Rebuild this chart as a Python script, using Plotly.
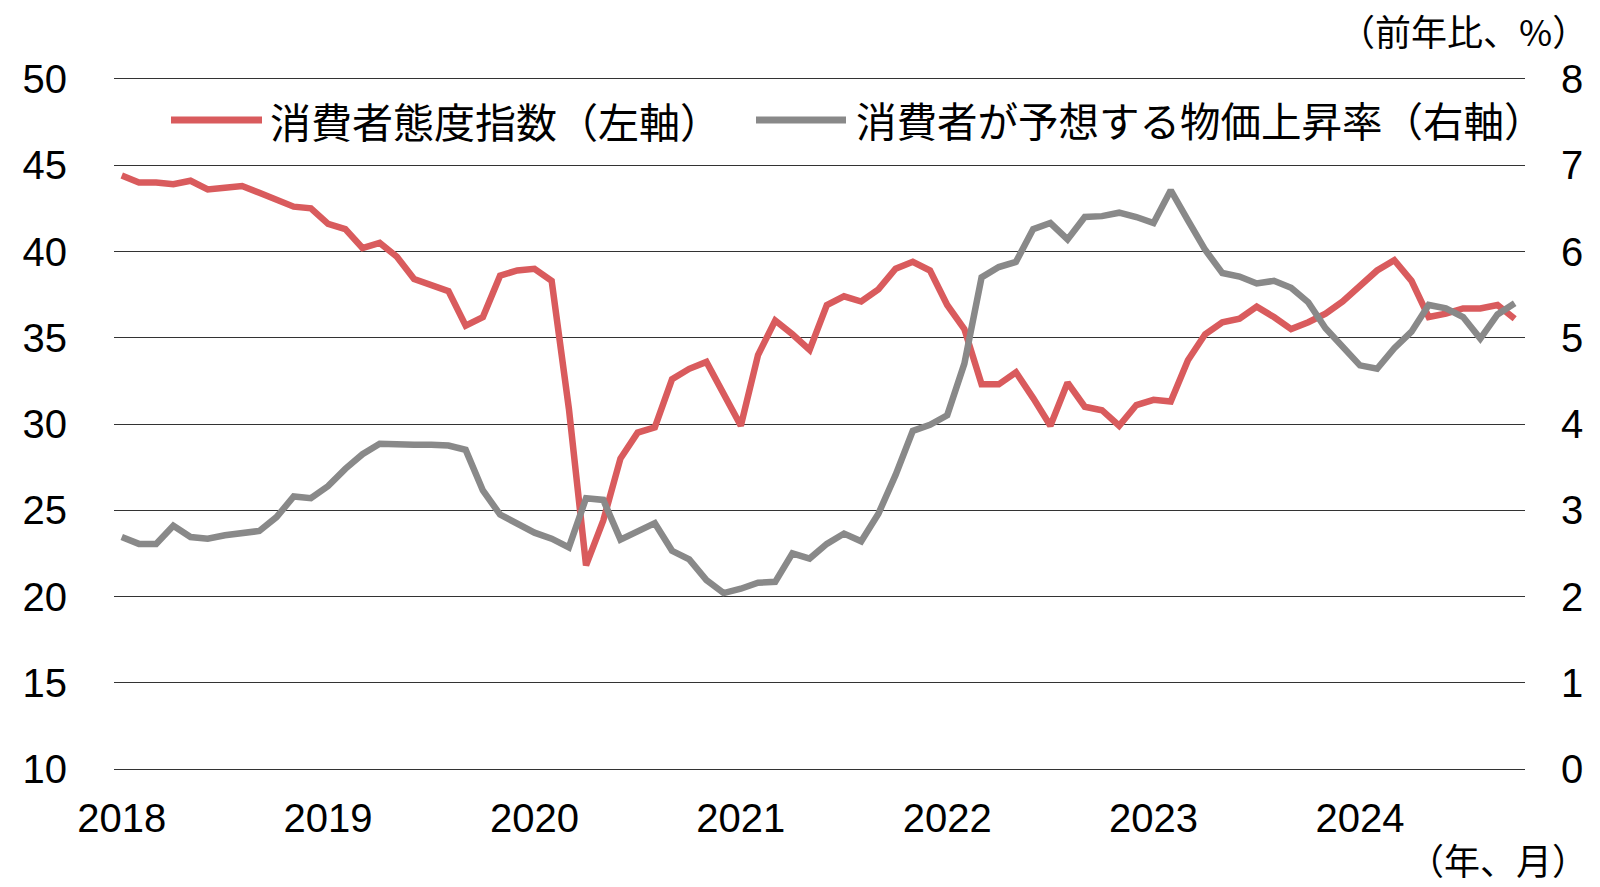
import plotly.graph_objects as go

# Monthly categories Jan 2018 - Oct 2024
months = [f"{y}/{m:02d}" for y in range(2018, 2025) for m in range(1, 13)][:82]

# 消費者態度指数（左軸）
confidence = [44.4, 44.0, 44.0, 43.9, 44.1, 43.6, 43.7, 43.8, 43.4, 43.0, 42.6, 42.5,
              41.6, 41.3, 40.2, 40.5, 39.7, 38.4, 38.0, 37.7, 35.7, 36.2, 38.6, 38.9,
              39.0, 38.3, 30.9, 21.8, 24.4, 28.0, 29.5, 29.8, 32.6, 33.2, 33.6, 31.8,
              29.9, 34.0, 36.0, 35.2, 34.3, 36.9, 37.4, 37.1, 37.8, 39.0, 39.4, 38.9,
              36.9, 35.5, 32.3, 32.3, 33.0, 31.5, 29.9, 32.4, 31.0, 30.8, 29.9, 31.1,
              31.4, 31.3, 33.7, 35.2, 35.9, 36.1, 36.8, 36.2, 35.5, 35.9, 36.4, 37.1,
              38.0, 38.9, 39.5, 38.3, 36.2, 36.4, 36.7, 36.7, 36.9, 36.1]

# 消費者が予想する物価上昇率（右軸）
expected_inflation = [2.69, 2.61, 2.61, 2.82, 2.69, 2.67, 2.71, 2.73, 2.76, 2.92, 3.16, 3.14,
                      3.28, 3.48, 3.65, 3.77, 3.76, 3.76, 3.76, 3.75, 3.70, 3.23, 2.95, 2.85,
                      2.74, 2.67, 2.57, 3.14, 3.12, 2.66, 2.75, 2.85, 2.53, 2.43, 2.19, 2.04,
                      2.09, 2.16, 2.17, 2.50, 2.44, 2.61, 2.73, 2.64, 2.96, 3.41, 3.92, 3.99,
                      4.10, 4.70, 5.70, 5.82, 5.88, 6.26, 6.33, 6.14, 6.40, 6.41, 6.45, 6.40,
                      6.33, 6.71, 6.36, 6.02, 5.75, 5.71, 5.63, 5.66, 5.58, 5.41, 5.11, 4.89,
                      4.68, 4.64, 4.88, 5.07, 5.38, 5.34, 5.24, 4.99, 5.27, 5.40]

year_ticks = ["2018/01", "2019/01", "2020/01", "2021/01", "2022/01", "2023/01", "2024/01"]
year_labels = ["2018", "2019", "2020", "2021", "2022", "2023", "2024"]

name_left = "消費者態度指数（左軸）"
name_right = "消費者が予想する物価上昇率（右軸）"

RED = "#D95B5D"
GRAY = "#898989"
GRID = "#333333"
JP = "Noto Sans CJK JP"
NUM = "Liberation Sans"

# figure geometry (page body has an 8px margin)
W, H = 1592, 871
ML, MT, PW, PH = 106, 71, 1411, 690
MR = W - ML - PW
MB = H - MT - PH


def px_x(p):
    return (p - ML) / PW


def px_y(p):
    return 1 - (p - MT) / PH


fig = go.Figure()
fig.add_trace(go.Scatter(x=months, y=confidence, name=name_left, mode="lines",
                         line=dict(color=RED, width=6.5), yaxis="y"))
fig.add_trace(go.Scatter(x=months, y=expected_inflation, name=name_right, mode="lines",
                         line=dict(color=GRAY, width=6.5), yaxis="y2"))

fig.update_layout(
    width=W, height=H,
    margin=dict(l=ML, r=MR, t=MT, b=MB, autoexpand=False),
    paper_bgcolor="white", plot_bgcolor="white",
    showlegend=False,
    font=dict(family=NUM, size=40, color="black"),
    xaxis=dict(type="category", categoryorder="array", categoryarray=months,
               range=[-0.45, 81.6], tickvals=year_ticks, ticktext=year_labels,
               showgrid=False, zeroline=False, showline=True, mirror=True,
               linecolor=GRID, linewidth=1, ticks="",
               ticklabelstandoff=14, tickfont=dict(family=NUM, size=40)),
    yaxis=dict(range=[10, 50], dtick=5, showgrid=True, gridcolor=GRID, gridwidth=1,
               zeroline=False, showline=False, ticks="", ticklabelstandoff=46,
               tickfont=dict(family=NUM, size=40)),
    yaxis2=dict(range=[0, 8], dtick=1, overlaying="y", side="right", showgrid=False,
                zeroline=False, showline=False, ticks="", ticklabelstandoff=35,
                tickfont=dict(family=NUM, size=40)),
)

# Legend drawn in paper space
leg_y = px_y(112)
shapes = [
    dict(type="line", xref="paper", yref="paper", x0=px_x(163), x1=px_x(254), y0=leg_y, y1=leg_y,
         line=dict(color=RED, width=7)),
    dict(type="line", xref="paper", yref="paper", x0=px_x(748), x1=px_x(838), y0=leg_y, y1=leg_y,
         line=dict(color=GRAY, width=7)),
]
fig.update_layout(shapes=shapes)

fig.add_annotation(xref="paper", yref="paper", x=px_x(260), y=leg_y, xanchor="left", yanchor="middle",
                   text=name_left, showarrow=False, font=dict(family=JP, size=41, color="black"))
fig.add_annotation(xref="paper", yref="paper", x=px_x(846), y=leg_y, xanchor="left", yanchor="middle",
                   text=name_right, showarrow=False, font=dict(family=JP, size=40.5, color="black"))

# Unit labels
fig.add_annotation(xref="paper", yref="paper", x=px_x(1582), y=px_y(22),
                   xanchor="right", yanchor="middle", text="（前年比、%）", showarrow=False,
                   font=dict(family=JP, size=36, color="black"))
fig.add_annotation(xref="paper", yref="paper", x=px_x(1582), y=px_y(851),
                   xanchor="right", yanchor="middle", text="（年、月）", showarrow=False,
                   font=dict(family=JP, size=36, color="black"))

fig.write_html("out.html")
